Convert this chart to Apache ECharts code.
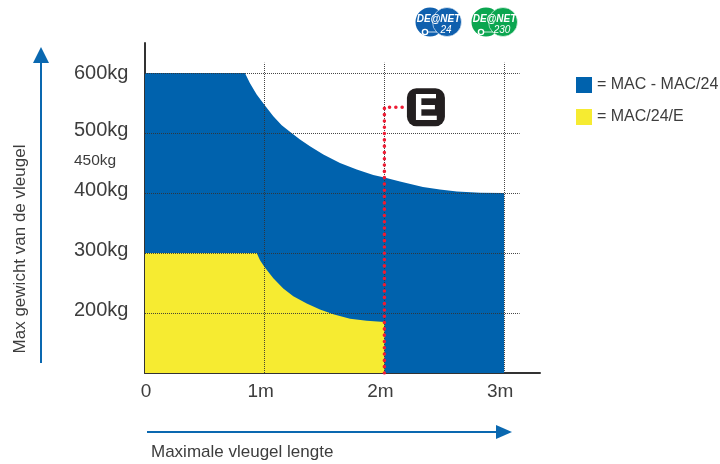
<!DOCTYPE html>
<html>
<head>
<meta charset="utf-8">
<style>
  html, body { margin: 0; padding: 0; background: #fff; }
  #main { width: 720px; height: 464px; }
</style>
<script src="https://cdn.jsdelivr.net/npm/echarts@6/dist/echarts.min.js"></script>
</head>
<body>
<div id="main"></div>
<script>
// values: [length in m, weight in kg]
const macPoints = [[0, 600], [0.835, 600], [0.877, 583], [0.933, 564], [0.994, 548], [1.072, 528], [1.142, 513],
  [1.211, 502], [1.295, 489], [1.378, 478], [1.49, 464], [1.629, 450], [1.769, 439], [1.907, 430], [2, 426],
  [2.13, 419], [2.322, 410], [2.464, 406], [2.606, 402.5], [2.799, 400.5], [3, 400]];
const macEPoints = [[0, 300], [0.933, 300], [0.961, 288], [0.997, 277], [1.072, 258], [1.155, 241], [1.239, 228],
  [1.351, 216], [1.462, 206], [1.573, 198], [1.713, 190.5], [1.852, 187], [2, 185]];
const eLimit = [[2, 100], [2, 543], [2.155, 543]];
const ePoint = [2.347, 543];

const xLabels = ["0", "1m", "2m", "3m"];
const yTicks = [600, 500, 450, 400, 300, 200];
const yLabels = ["600kg", "500kg", "450kg", "400kg", "300kg", "200kg"];
const gridY = [600, 500, 400, 300, 200];
const gridX = [1, 2, 3];
const seriesNames = ["MAC - MAC/24", "MAC/24/E"];

const BLUE = "#0062ad";
const YELLOW = "#f6eb31";
const ARROW = "#0a68b0";
const TEXT = "#3d3d3d";
const FONT = "'Liberation Sans', Arial, sans-serif";

// horizontal lines run past the 3m mark, vertical ones stop above 600kg
const gridLines = [
  ...gridY.map((y) => [{ coord: [0, y] }, { coord: [3.13, y] }]),
  ...gridX.map((x) => [{ coord: [x, 100] }, { coord: [x, 617] }]),
];

// logo in the top right
function logo(x, color, sub) {
  return {
    type: "group",
    x: x,
    y: 22,
    children: [
      { type: "circle", shape: { cx: 0, cy: 0, r: 14.5 }, style: { fill: color } },
      { type: "circle", shape: { cx: 17, cy: 0, r: 14.5 }, style: { fill: color, stroke: "#fff", lineWidth: 0.6 } },
      { type: "circle", shape: { cx: -5, cy: 10, r: 2.6 }, style: { fill: "none", stroke: "#fff", lineWidth: 1.4 } },
      { type: "line", shape: { x1: -2, y1: 10, x2: 7, y2: 10 }, style: { stroke: "#fff", lineWidth: 0.8 } },
      { type: "text", x: 8.5, y: -3, style: { text: "DE@NET", fill: "#fff", font: "italic bold 10px " + FONT, align: "center", verticalAlign: "middle" } },
      { type: "text", x: 16, y: 8, style: { text: sub, fill: "#fff", font: "italic 10px " + FONT, align: "center", verticalAlign: "middle" } },
    ],
  };
}

const chart = echarts.init(document.getElementById("main"));
chart.setOption({
  animation: false,
  textStyle: { fontFamily: FONT },
  grid: { left: 145, right: 180, top: 43, bottom: 91 },
  legend: {
    data: seriesNames,
    orient: "vertical",
    left: 571,
    top: 72,
    itemWidth: 16,
    itemHeight: 16,
    itemGap: 16,
    icon: "rect",
    selectedMode: false,
    formatter: "= {name}",
    textStyle: { color: TEXT, fontSize: 16, fontFamily: FONT },
  },
  xAxis: {
    type: "value",
    min: 0,
    max: 3.3,
    interval: 1,
    splitLine: { show: false },
    axisTick: { show: false },
    axisLine: { show: true, lineStyle: { color: "#333", width: 2 } },
    axisLabel: {
      margin: 9,
      color: TEXT,
      fontSize: 19,
      padding: [0, 8, 0, 0],
      rich: { zero: { fontSize: 19, color: TEXT, padding: [0, 0, 0, 10] } },
      formatter: (v) => {
        if (v === 0) return "{zero|" + xLabels[0] + "}";
        return xLabels[v] !== undefined ? xLabels[v] : "";
      },
    },
  },
  yAxis: {
    type: "value",
    min: 100,
    max: 650,
    interval: 50,
    splitLine: { show: false },
    axisTick: { show: false },
    axisLine: { show: true, lineStyle: { color: "#333", width: 2 } },
    axisLabel: {
      margin: 71,
      align: "left",
      color: TEXT,
      fontSize: 20,
      padding: [0, 0, 5, 0],
      rich: {
        small: { fontSize: 15.5, color: TEXT },
        top: { fontSize: 20, color: TEXT, padding: [5, 0, 0, 0] },
      },
      formatter: (v) => {
        const i = yTicks.indexOf(v);
        if (i < 0) return "";
        if (v === 450) return "{small|" + yLabels[i] + "}";
        if (v === 600) return "{top|" + yLabels[i] + "}";
        return yLabels[i];
      },
    },
  },
  series: [
    {
      name: seriesNames[0],
      type: "line",
      data: macPoints,
      symbol: "none",
      z: 2,
      itemStyle: { color: BLUE },
      lineStyle: { width: 0 },
      areaStyle: { color: BLUE, opacity: 1, origin: "start" },
    },
    {
      name: seriesNames[1],
      type: "line",
      data: macEPoints,
      symbol: "none",
      z: 3,
      itemStyle: { color: YELLOW },
      lineStyle: { width: 0 },
      areaStyle: { color: YELLOW, opacity: 1, origin: "start" },
    },
    {
      name: "grid",
      type: "line",
      data: [],
      z: 4,
      markLine: {
        silent: true,
        symbol: "none",
        animation: false,
        label: { show: false },
        lineStyle: { type: "dotted", color: "#333", width: 1, opacity: 0.9 },
        data: gridLines,
      },
    },
    {
      name: "E",
      type: "line",
      data: eLimit,
      symbol: "none",
      z: 10,
      lineStyle: { color: "#ee1c34", width: 3.5, type: [0.1, 6.2], cap: "round" },
      markPoint: {
        silent: true,
        symbol: "roundRect",
        symbolSize: 38,
        itemStyle: { color: "#231f20" },
        label: {
          show: true,
          position: "inside",
          offset: [0, 3],
          formatter: "E",
          color: "#fff",
          fontWeight: "bold",
          fontSize: 37,
          fontFamily: FONT,
        },
        data: [{ coord: ePoint }],
      },
    },
  ],
  graphic: [
    logo(430, "#1060ae", "24"),
    logo(486, "#0ba650", "230"),
    // axis arrows
    { type: "line", shape: { x1: 41, y1: 363, x2: 41, y2: 60 }, style: { stroke: ARROW, lineWidth: 2 } },
    { type: "polygon", shape: { points: [[41, 47], [33, 63], [49, 63]] }, style: { fill: ARROW } },
    { type: "line", shape: { x1: 147, y1: 432, x2: 498, y2: 432 }, style: { stroke: ARROW, lineWidth: 2 } },
    { type: "polygon", shape: { points: [[512, 432], [496, 425], [496, 439]] }, style: { fill: ARROW } },
    // axis titles
    {
      type: "text",
      x: 20,
      y: 249,
      rotation: Math.PI / 2,
      style: { text: "Max gewicht van de vleugel", fill: TEXT, font: "17px " + FONT, align: "center", verticalAlign: "middle" },
    },
    {
      type: "text",
      x: 151,
      y: 452,
      style: { text: "Maximale vleugel lengte", fill: TEXT, font: "17px " + FONT, align: "left", verticalAlign: "middle" },
    },
  ],
});
</script>
</body>
</html>
